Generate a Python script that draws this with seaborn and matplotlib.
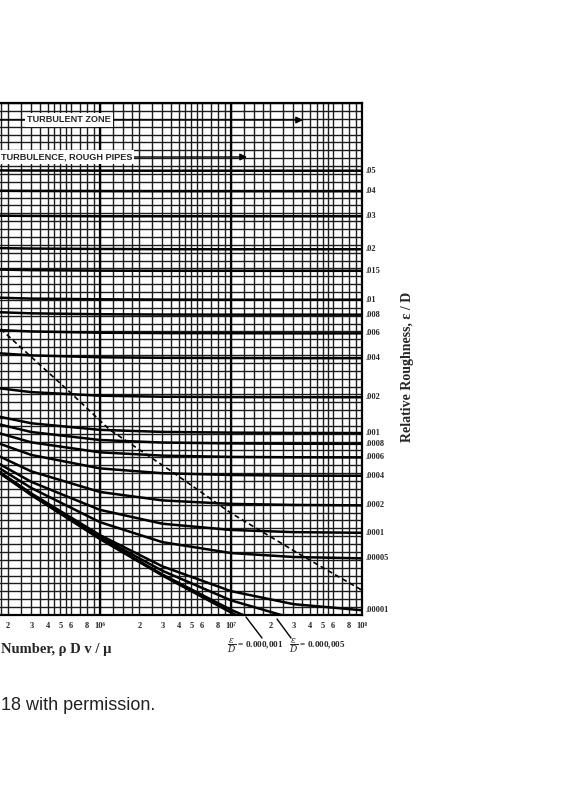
import numpy as np
import pandas as pd
import matplotlib
matplotlib.use("Agg")
import matplotlib.pyplot as plt
import matplotlib.transforms as mtransforms
from matplotlib.ticker import FixedLocator, FixedFormatter, NullFormatter, NullLocator
import seaborn as sns

# ---------------- data ----------------
reynolds = [1.5e5, 3e5, 1e6, 3e6, 1e7, 3e7, 1e8]

f_smooth = [0.01656, 0.01446, 0.01164, 0.00972, 0.00810, 0.00695, 0.00594]
f_000001 = [0.01656, 0.01447, 0.01167, 0.00977, 0.00821, 0.00718, 0.00643]
f_000005 = [0.01659, 0.01452, 0.01176, 0.00995, 0.00860, 0.00786, 0.00747]
f_00001 = [0.01663, 0.01457, 0.01187, 0.01017, 0.00900, 0.00844, 0.00819]
f_00005 = [0.01689, 0.01497, 0.01265, 0.01146, 0.01086, 0.01065, 0.01058]
f_0001 = [0.01721, 0.01543, 0.01344, 0.01255, 0.01217, 0.01204, 0.01200]
f_0002 = [0.01781, 0.01625, 0.01468, 0.01408, 0.01384, 0.01377, 0.01374]
f_0004 = [0.01888, 0.01762, 0.01649, 0.01610, 0.01596, 0.01591, 0.01590]
f_0006 = [0.01982, 0.01875, 0.01785, 0.01756, 0.01745, 0.01742, 0.01741]
f_0008 = [0.02067, 0.01973, 0.01897, 0.01873, 0.01865, 0.01862, 0.01861]
f_001 = [0.02144, 0.02060, 0.01994, 0.01974, 0.01967, 0.01964, 0.01963]
f_002 = [0.02459, 0.02402, 0.02360, 0.02348, 0.02344, 0.02343, 0.02342]
f_004 = [0.02916, 0.02879, 0.02853, 0.02845, 0.02842, 0.02840, 0.02840]
f_006 = [0.03268, 0.03240, 0.03220, 0.03214, 0.03212, 0.03210, 0.03210]
f_008 = [0.03567, 0.03543, 0.03527, 0.03522, 0.03520, 0.03520, 0.03520]
f_01 = [0.03831, 0.03810, 0.03797, 0.03792, 0.03790, 0.03790, 0.03790]
f_015 = [0.04400, 0.04384, 0.04373, 0.04370, 0.04370, 0.04370, 0.04370]
f_02 = [0.04890, 0.04877, 0.04867, 0.04862, 0.04860, 0.04860, 0.04860]
f_03 = [0.05737, 0.05728, 0.05720, 0.05720, 0.05720, 0.05720, 0.05720]
f_04 = [0.06485, 0.06478, 0.06473, 0.06470, 0.06470, 0.06470, 0.06470]
f_05 = [0.07171, 0.07166, 0.07162, 0.07160, 0.07160, 0.07160, 0.07160]

curve_names = ["smooth", ".000001", ".000005", ".00001", ".00005", ".0001",
               ".0002", ".0004", ".0006", ".0008", ".001", ".002", ".004",
               ".006", ".008", ".01", ".015", ".02", ".03", ".04", ".05"]
curve_values = [f_smooth, f_000001, f_000005, f_00001, f_00005, f_0001,
                f_0002, f_0004, f_0006, f_0008, f_001, f_002, f_004,
                f_006, f_008, f_01, f_015, f_02, f_03, f_04, f_05]

right_labels = [".05", ".04", ".03", ".02", ".015", ".01", ".008", ".006",
                ".004", ".002", ".001", ".0008", ".0006", ".0004", ".0002",
                ".0001", ".00005", ".00001"]

# boundary of complete turbulence (dashed line)
dash_re = [1.75e5, 5.93e5, 1.19e6, 3.39e6, 1.0e7, 3.45e7, 1.0e8]
dash_f = [0.0328, 0.0240, 0.01995, 0.01637, 0.01323, 0.01074, 0.00904]

# x tick labels
xtick_values = [2e5, 3e5, 4e5, 5e5, 6e5, 8e5, 1e6,
                2e6, 3e6, 4e6, 5e6, 6e6, 8e6, 1e7,
                2e7, 3e7, 4e7, 5e7, 6e7, 8e7, 1e8]
xtick_labels = ["2", "3", "4", "5", "6", "8", "10\u2076",
                "2", "3", "4", "5", "6", "8", "10\u2077",
                "2", "3", "4", "5", "6", "8", "10\u2078"]

# ---------------- figure ----------------
sns.set_theme(style="white")
plt.rcParams["mathtext.fontset"] = "dejavuserif"
SERIF = ["Liberation Serif", "DejaVu Serif"]
SANS = ["Liberation Sans", "DejaVu Sans"]

# dense chart-paper grid (styling only)
grid_mult = [1, 1.25, 1.5, 1.75, 2, 2.5, 3, 3.5, 4, 4.5, 5, 5.5, 6, 7, 8, 9]
grid_x = [m * 10.0 ** k for k in (5, 6, 7) for m in grid_mult] + [1e8]
heavy_x = [1e6, 1e7]
grid_y = list(np.geomspace(0.008, 0.1, 66))

W, H = 573, 800
fig = plt.figure(figsize=(W / 100, H / 100), dpi=100)
fig.patch.set_facecolor("white")
ax = fig.add_axes([0, 1 - 615 / H, 362 / W, 512 / H])
ax.set_xscale("log")
ax.set_yscale("log")

rows = []
for name, vals in zip(curve_names, curve_values):
    for r, f in zip(reynolds, vals):
        rows.append({"curve": name, "Re": r, "f": f})
df = pd.DataFrame(rows)

sns.lineplot(data=df, x="Re", y="f", units="curve", estimator=None,
             color="black", lw=1.8, ax=ax, legend=False, zorder=3)
sns.lineplot(x=dash_re, y=dash_f, color="black", lw=1.2,
             linestyle=(0, (3, 2)), ax=ax, zorder=3)

ax.set_xlim(10 ** (6 - 100 / 131.3), 1e8)
ax.set_ylim(0.008, 0.1)
ax.set_xlabel("")
ax.set_ylabel("")

ax.xaxis.set_major_locator(FixedLocator(xtick_values))
ax.xaxis.set_major_formatter(FixedFormatter(xtick_labels))
ax.xaxis.set_minor_locator(FixedLocator(grid_x))
ax.xaxis.set_minor_formatter(NullFormatter())
ax.yaxis.set_major_locator(NullLocator())
ax.yaxis.set_minor_locator(FixedLocator(grid_y))
ax.yaxis.set_minor_formatter(NullFormatter())
ax.tick_params(axis="both", which="both", length=0)
ax.tick_params(axis="x", which="major", pad=5, labelsize=6)
for lab in ax.get_xticklabels():
    lab.set_family(SERIF)
    lab.set_fontweight("bold")

ax.set_axisbelow(True)
ax.grid(which="both", color="#1c1c1c", lw=1.0)
for xv in heavy_x:
    ax.axvline(xv, color="black", lw=1.6, zorder=1)
for side in ("top", "bottom", "right"):
    ax.spines[side].set_color("black")
    ax.spines[side].set_linewidth(1.6)
ax.spines["left"].set_visible(False)

# right-hand relative roughness labels at curve ends
trans = mtransforms.blended_transform_factory(ax.transAxes, ax.transData)
label_to_end = {n: v[-1] for n, v in zip(curve_names, curve_values)}
for lab in right_labels:
    ax.text(1.0 + 4 / 362, label_to_end[lab], lab, transform=trans,
            ha="left", va="center", fontsize=6, fontweight="bold",
            family=SERIF, clip_on=False)

fig.text(408 / W, 1 - 367 / H, "Relative Roughness, \u03b5 / D", rotation=90,
         ha="center", va="center", fontsize=10, fontweight="bold", family=SERIF)
fig.text(1 / W, 1 - 650 / H, "Number, \u03c1 D v / \u03bc",
         ha="left", va="center", fontsize=10.5, fontweight="bold", family=SERIF)

# zone banners with arrows
y1 = 1 - 120 / H
y2 = 1 - 157 / H
for y, xend in ((y1, 303 / W), (y2, 247 / W)):
    ax.annotate("", xy=(xend, y), xytext=(-0.01, y),
                xycoords="figure fraction", textcoords="figure fraction",
                arrowprops=dict(arrowstyle="-|>", color="black", lw=1.0,
                                mutation_scale=10, shrinkA=0, shrinkB=0),
                annotation_clip=False, zorder=5)
bbox = dict(fc="white", ec="none", pad=1.5)
fig.text(69 / W, y1, "TURBULENT ZONE", ha="center", va="center",
         fontsize=6.6, fontweight="bold", family=SANS, bbox=bbox)
fig.text(1 / W, y2, "TURBULENCE, ROUGH PIPES", ha="left", va="center",
         fontsize=6.6, fontweight="bold", family=SANS, bbox=bbox)

# epsilon/D annotations below the axis
fig.text(227 / W, 1 - 646 / H, r"$\dfrac{\varepsilon}{D}$ = 0.000,001",
         ha="left", va="center", fontsize=6.6, family=SERIF, fontweight="bold")
fig.text(289 / W, 1 - 646 / H, r"$\dfrac{\varepsilon}{D}$ = 0.000,005",
         ha="left", va="center", fontsize=6.6, family=SERIF, fontweight="bold")
for (xa, ya, xb, yb) in ((262, 638, 246, 617), (291, 638, 277, 619)):
    ax.annotate("", xy=(xb / W, 1 - yb / H), xytext=(xa / W, 1 - ya / H),
                xycoords="figure fraction", textcoords="figure fraction",
                arrowprops=dict(arrowstyle="-", color="black", lw=1.0,
                                shrinkA=0, shrinkB=0),
                annotation_clip=False)

fig.text(1 / W, 1 - 706 / H, "18 with permission.", ha="left", va="center",
         fontsize=13, family=SANS, color="#222222")

fig.savefig("out.png", dpi=100, facecolor="white")
